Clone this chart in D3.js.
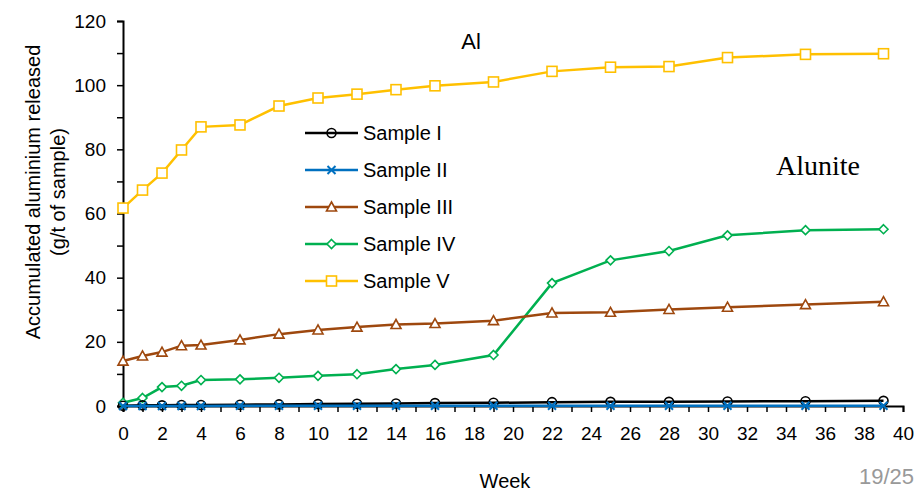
<!DOCTYPE html>
<html>
<head>
<meta charset="utf-8">
<script src="https://cdn.jsdelivr.net/npm/d3@7"></script>
<style>
  body { margin: 0; background: #fff; }
  svg { display: block; font-family: "Liberation Sans", Arial, sans-serif; }
</style>
</head>
<body>
<script>
// weeks sampled
const weeks = [0, 1, 2, 3, 4, 6, 8, 10, 12, 14, 16, 19, 22, 25, 28, 31, 35, 39];

// accumulated Al released (g/t of sample)
const sampleI = [0.1, 0.2, 0.2, 0.3, 0.3, 0.4, 0.5, 0.6, 0.7, 0.8, 0.9, 1.0, 1.2, 1.3, 1.3, 1.4, 1.5, 1.6];
const sampleII = [0.0, 0.0, 0.0, 0.0, 0.0, 0.1, 0.1, 0.1, 0.1, 0.1, 0.1, 0.1, 0.1, 0.1, 0.1, 0.1, 0.1, 0.1];
const sampleIII = [14.0, 15.6, 16.8, 18.8, 19.0, 20.6, 22.4, 23.7, 24.6, 25.4, 25.7, 26.6, 29.0, 29.2, 30.1, 30.8, 31.6, 32.5];
const sampleIV = [1.0, 2.5, 5.9, 6.3, 8.1, 8.3, 8.8, 9.4, 9.9, 11.5, 12.8, 15.9, 38.3, 45.4, 48.3, 53.2, 54.8, 55.1];
const sampleV = [61.7, 67.3, 72.6, 79.8, 87.0, 87.6, 93.5, 96.0, 97.2, 98.6, 99.8, 101.0, 104.3, 105.6, 105.8, 108.6, 109.6, 109.8];

const seriesNames = ["Sample I", "Sample II", "Sample III", "Sample IV", "Sample V"];
const seriesValues = [sampleI, sampleII, sampleIII, sampleIV, sampleV];
const seriesColors = ["#000000", "#0070C0", "#9E480E", "#00B050", "#FFC000"];
const seriesMarkers = ["circle", "cross", "triangle", "diamond", "square"];

const width = 918, height = 491;
const margin = { left: 123, right: 15, top: 21, bottom: 85 };

const svg = d3.select("body").append("svg")
    .attr("width", width)
    .attr("height", height);

const x = d3.scaleLinear().domain([0, 40]).range([margin.left, width - margin.right]);
const y = d3.scaleLinear().domain([0, 120]).range([height - margin.bottom, margin.top]);

// axes
const xAxis = svg.append("g")
    .attr("transform", `translate(0,${y(0)})`)
    .call(d3.axisBottom(x).tickValues(d3.range(0, 41, 1)).tickSize(6)
        .tickFormat(d => d % 2 === 0 ? d : ""));
xAxis.select(".domain").attr("stroke", "#000").attr("stroke-width", 2);
xAxis.selectAll(".tick line").attr("stroke", "#000").attr("stroke-width", 1.5);
xAxis.selectAll(".tick text").attr("font-size", 19).attr("fill", "#000")
    .attr("y", 34).attr("dy", 0);

const yAxis = svg.append("g")
    .attr("transform", `translate(${x(0)},0)`)
    .call(d3.axisLeft(y).tickValues(d3.range(0, 121, 10)).tickSize(6)
        .tickFormat(d => d % 20 === 0 ? d : ""));
yAxis.select(".domain").attr("stroke", "#000").attr("stroke-width", 2);
yAxis.selectAll(".tick line").attr("stroke", "#000").attr("stroke-width", 1.5);
yAxis.selectAll(".tick text").attr("font-size", 19).attr("fill", "#000").attr("x", -17);

// marker drawer
function drawMarker(g, type, color) {
    if (type === "circle") {
        g.append("circle").attr("r", 4.5).attr("fill", "none").attr("stroke", color).attr("stroke-width", 1.6);
    } else if (type === "cross") {
        g.append("path").attr("d", "M-4,-4L4,4M-4,4L4,-4")
            .attr("stroke", color).attr("stroke-width", 2);
    } else if (type === "triangle") {
        g.append("path").attr("d", "M0,-5L5,4L-5,4Z")
            .attr("fill", "#fff").attr("stroke", color).attr("stroke-width", 1.6);
    } else if (type === "diamond") {
        g.append("path").attr("d", "M0,-4.5L4.5,0L0,4.5L-4.5,0Z")
            .attr("fill", "#fff").attr("stroke", color).attr("stroke-width", 1.6);
    } else if (type === "square") {
        g.append("rect").attr("x", -5).attr("y", -5).attr("width", 10).attr("height", 10)
            .attr("fill", "#fff").attr("stroke", color).attr("stroke-width", 1.6);
    }
}

const line = d3.line()
    .x(d => x(d[0]))
    .y(d => y(d[1]));

// draw series (back to front: V, IV, III, I, II on top like reference)
const drawOrder = [4, 3, 2, 0, 1];
drawOrder.forEach(i => {
    const pts = weeks.map((w, k) => [w, seriesValues[i][k]]);
    svg.append("path")
        .datum(pts)
        .attr("fill", "none")
        .attr("stroke", seriesColors[i])
        .attr("stroke-width", 2.5)
        .attr("d", line);
    pts.forEach(p => {
        const g = svg.append("g").attr("transform", `translate(${x(p[0])},${y(p[1])})`);
        drawMarker(g, seriesMarkers[i], seriesColors[i]);
    });
});

// legend
const legend = svg.append("g").attr("transform", "translate(305,133)");
seriesNames.forEach((name, i) => {
    const row = legend.append("g").attr("transform", `translate(0,${i * 37})`);
    row.append("line").attr("x1", 0).attr("x2", 53).attr("y1", 0).attr("y2", 0)
        .attr("stroke", seriesColors[i]).attr("stroke-width", 2.5);
    const m = row.append("g").attr("transform", "translate(26.5,0)");
    drawMarker(m, seriesMarkers[i], seriesColors[i]);
    row.append("text").attr("x", 58).attr("y", 0).attr("dy", "0.35em")
        .attr("font-size", 20).attr("fill", "#000").text(name);
});

// annotations
svg.append("text").attr("x", 471).attr("y", 49).attr("text-anchor", "middle")
    .attr("font-size", 22).text("Al");
svg.append("text").attr("x", 818).attr("y", 175).attr("text-anchor", "middle")
    .attr("font-family", "'Liberation Serif', 'DejaVu Serif', serif")
    .attr("font-size", 28).text("Alunite");

// axis titles
svg.append("text").attr("x", 505).attr("y", 488).attr("text-anchor", "middle")
    .attr("font-size", 20).text("Week");
const yTitle = svg.append("text")
    .attr("transform", "translate(40,192) rotate(-90)")
    .attr("text-anchor", "middle")
    .attr("font-size", 20);
yTitle.append("tspan").attr("x", 0).attr("dy", 0).text("Accumulated aluminium released");
yTitle.append("tspan").attr("x", 0).attr("dy", 25).text("(g/t of sample)");

// page number
svg.append("text").attr("x", 914).attr("y", 484).attr("text-anchor", "end")
    .attr("font-size", 22).attr("fill", "#999").text("19/25");
</script>
</body>
</html>
